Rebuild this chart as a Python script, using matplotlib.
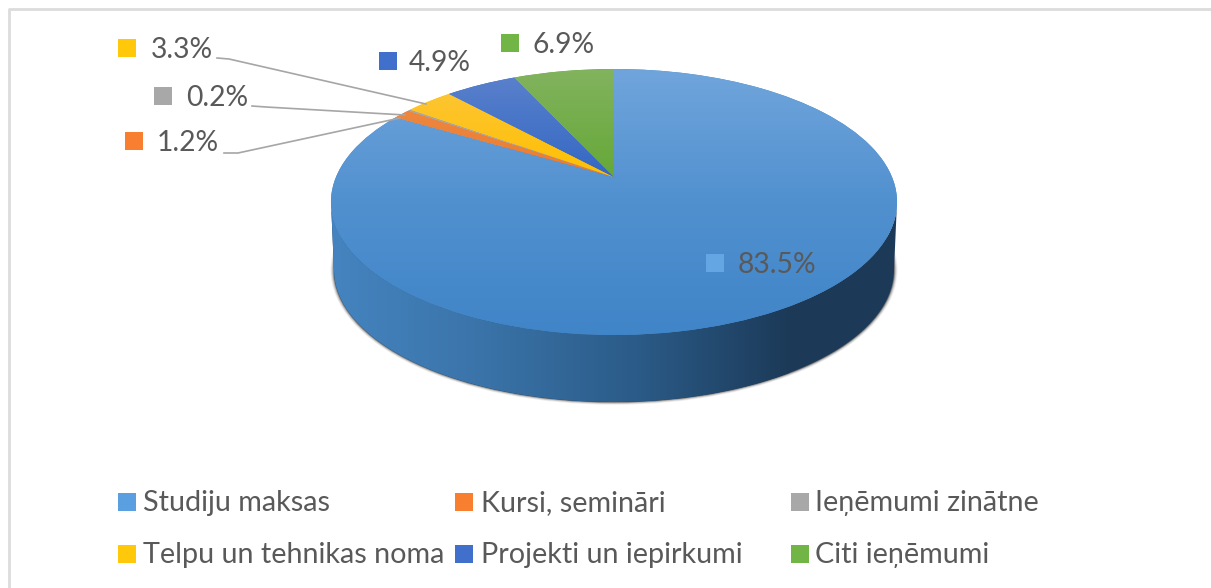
import numpy as np
import matplotlib
matplotlib.use("Agg")
import matplotlib.pyplot as plt
from matplotlib.colors import LinearSegmentedColormap
from matplotlib.patches import Ellipse, Polygon, Rectangle
from matplotlib.transforms import Transform

# data
categories = ["Studiju maksas", "Kursi, semināri", "Ieņēmumi zinātne",
              "Telpu un tehnikas noma", "Projekti un iepirkumi", "Citi ieņēmumi"]
shares = [83.5, 1.2, 0.2, 3.3, 4.9, 6.9]
share_labels = ["83.5%", "1.2%", "0.2%", "3.3%", "4.9%", "6.9%"]

# style: top and bottom of each slice gradient, key colours
top_colors = ["#70a5dc", "#f08c45", "#a9a9a9", "#fcc640", "#5c82cc", "#82b35e"]
bottom_colors = ["#4085c8", "#ea7d32", "#a5a5a5", "#ffc000", "#3468c4", "#66a838"]
key_colors = ["#5aa0e0", "#f97f30", "#a8a8a8", "#ffc80a", "#4070cc", "#70b545"]

# where the labels sit, in image pixels
key_pos = [(715, 263), (134, 141), (163, 96), (127, 48), (388, 61), (510, 43)]
text_x = [738, 157, 186, 151, 409, 533]
leaders = {1: [(224, 153), (238, 153), (400, 118)],
           2: [(252, 106), (266, 107), (405, 115)],
           3: [(217, 58), (229, 59), (426, 104)]}
legend_x = [118, 455, 791]
legend_text_x = [143, 481, 815]
legend_y = [502, 554]

WIDTH, HEIGHT = 1211, 588
CX, AY = 614, 177
K, A, B = 0.188, 278, 128.3


class Perspective(Transform):
    # tilts the flat unit pie back, so the apex sits above the middle of the ellipse
    input_dims = 2
    output_dims = 2

    def transform_non_affine(self, xy):
        xy = np.asarray(xy, dtype=float)
        w = 1 + K * xy[:, 1]
        return np.column_stack([CX + A * xy[:, 0] / w, AY - B * xy[:, 1] / w])


plt.rcParams['font.family'] = ['Lato', 'DejaVu Sans']
fig = plt.figure(figsize=(WIDTH / 100, HEIGHT / 100), dpi=100)
ax = fig.add_axes([0, 0, 1, 1])

# frame of the chart
ax.plot([9, 9, WIDTH], [HEIGHT, 9, 9], color="#dcdcdc", lw=2, zorder=1)

# shadow and side of the disc
for grow, alpha in zip([7, 5, 3, 1.5], [0.08, 0.15, 0.25, 0.4]):
    ax.add_patch(Ellipse((CX, 270), 560 + grow, 264 + grow * 0.8, color="#303030",
                         alpha=alpha, lw=0, zorder=2))

t = np.linspace(np.pi, 0, 200)
top_edge = np.column_stack([CX + 283 * np.cos(t), 202 + 133 * np.sin(t)])
bottom_edge = np.column_stack([CX + 280 * np.cos(t[::-1]), 270 + 132 * np.sin(t[::-1])])
side = Polygon(np.vstack([top_edge, bottom_edge]), closed=True, facecolor="#1c3a58",
               edgecolor="none", zorder=3)
ax.add_patch(side)
side_cmap = LinearSegmentedColormap.from_list(
    "side", ["#4584c0", "#3a73a8", "#2b5b88", "#1c3a58"])
im = ax.imshow(np.linspace(0, 1, 256)[None, :], cmap=side_cmap, aspect="auto",
               extent=(331, 790, 410, 200), zorder=3)
im.set_clip_path(side)

# top of the pie
wedges, _ = ax.pie(shares, startangle=90, counterclock=False, radius=1,
                   colors=bottom_colors)
persp = Perspective() + ax.transData
for i, wedge in enumerate(wedges):
    wedge.set_transform(persp)
    wedge.set_zorder(4 + i * 0.01)
    cmap = LinearSegmentedColormap.from_list("s%d" % i, [top_colors[i], bottom_colors[i]])
    ramp = np.linspace(0, 1, 256)
    if i == 0:
        # the big slice gets most of its change in the upper half
        ramp = np.interp(ramp, [0, 0.5, 1], [0, 0.65, 1])
    grad = ax.imshow(ramp[:, None], cmap=cmap, aspect="auto", vmin=0, vmax=1,
                     extent=(331, 897, 335, 69) if i == 0 else (331, 897, 177, 69),
                     zorder=4 + i * 0.01 + 0.005)
    grad.set_clip_path(wedge)

# data labels with their little keys
for i, label in enumerate(share_labels):
    x, y = key_pos[i]
    ax.add_patch(Rectangle((x - 9, y - 9), 18, 18, facecolor=key_colors[i] if i else "#64a6e4",
                           edgecolor="none", zorder=6))
    ax.text(text_x[i], y + 2, label, fontsize=20.3, color="#595959", ha="left",
            va="center", zorder=6)
for pts in leaders.values():
    xs, ys = zip(*pts)
    ax.plot(xs, ys, color="#a6a6a6", lw=1.2, zorder=5)

# legend, laid out like in the office chart
for i, name in enumerate(categories):
    row, col = divmod(i, 3)
    y = legend_y[row]
    ax.add_patch(Rectangle((legend_x[col], y - 9), 18, 18, facecolor=key_colors[i],
                           edgecolor="none", zorder=6))
    ax.text(legend_text_x[col], y + 1, name, fontsize=20.7, color="#595959", ha="left",
            va="center", zorder=6)

ax.set_aspect("auto")
ax.set_xlim(0, WIDTH)
ax.set_ylim(HEIGHT, 0)
ax.axis("off")
fig.savefig("out.png", dpi=100, facecolor="white")
